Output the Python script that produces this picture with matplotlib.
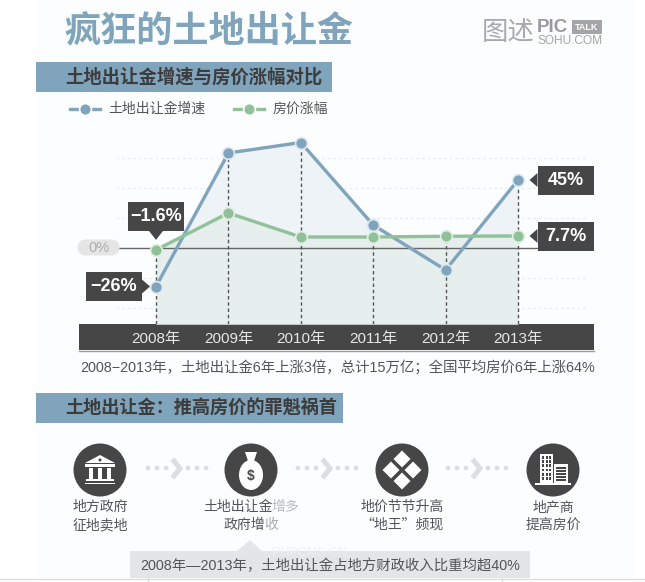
from matplotlib import pyplot as plt
from matplotlib.patches import Rectangle, Polygon, Circle, FancyBboxPatch, Ellipse

plt.rcParams['font.family'] = ['Liberation Sans', 'Noto Sans CJK SC', 'DejaVu Sans']

W, H = 645, 582

years = [2008, 2009, 2010, 2011, 2012, 2013]
year_labels = ["2008年", "2009年", "2010年", "2011年", "2012年", "2013年"]
land_growth = [-26, 63, 70, 15, -15, 45]
house_growth = [-1.6, 23, 7, 7, 7.5, 7.7]
grid_values = [-40, -20, 20, 40, 60]

BLUE = "#7fa4bb"
GREEN = "#90c198"
DARK = "#464646"
TEXT = "#555555"
BG = "#fbfdfe"

fig = plt.figure(figsize=(W / 100, H / 100), dpi=100, facecolor="white")


def pixel_axes(zorder):
    a = fig.add_axes([0, 0, 1, 1], zorder=zorder)
    a.set_xlim(0, W)
    a.set_ylim(H, 0)
    a.axis("off")
    return a


back = pixel_axes(0)
top = pixel_axes(2)

# Background panel
back.add_patch(Rectangle((36, 0), 597, 578, color=BG, lw=0))
back.plot([0, 645], [578.5, 578.5], color="#dddddd", lw=1)
back.plot([148, 148], [578, 582], color="#dddddd", lw=1)
back.plot([502, 502], [578, 582], color="#dddddd", lw=1)

# Main chart, 1.5 px per percent, zero at y=247.5
left, right, ytop, ybot = 79, 594, 120, 324
ax = fig.add_axes([left / W, 1 - ybot / H, (right - left) / W, (ybot - ytop) / H], zorder=1)
ax.patch.set_alpha(0)
ax.set_xlim(2008 - 77 / 72.4, 2013 + 76 / 72.4)
ax.set_ylim((247.5 - ybot) / 1.5, (247.5 - ytop) / 1.5)
for s in ax.spines.values():
    s.set_visible(False)
ax.set_yticks([])
ax.set_xticks(years)
ax.set_xticklabels(year_labels, fontsize=11, color="#e6e6e6")
ax.tick_params(axis="x", length=0, pad=6)

y0 = ax.get_ylim()[0]
ax.fill_between(years, land_growth, y0, color="#edf3f7", lw=0, zorder=1)
ax.fill_between(years, house_growth, y0, color="#e7eeee", lw=0, zorder=1.1)

for v in grid_values:
    ax.plot([2007.45, 2013.95], [v, v], color="#e9eff1", lw=1, ls=(0, (2, 2)), zorder=0.5)
ax.plot([2007.45, 2013.6], [0, 0], color="#666666", lw=1, zorder=2)

for i in range(len(years)):
    ax.plot([years[i], years[i]], [y0, max(land_growth[i], house_growth[i])],
            color="#555555", lw=1, ls=(0, (2.5, 2)), zorder=2.5)

ax.plot(years, land_growth, color=BLUE, lw=2.4, zorder=3, marker="o", ms=8.5,
        mfc=BLUE, mec="#dfe9ef", mew=1.2)
ax.plot(years, house_growth, color=GREEN, lw=2.4, zorder=4, marker="o", ms=8.5,
        mfc=GREEN, mec="#e2efe4", mew=1.2)


def to_px(year, value):
    return top.transData.inverted().transform(ax.transData.transform((year, value)))


def callout(year, value, label, side):
    px, py = to_px(year, value)
    bw, bh = 56, 29
    if side == "up":
        bx, by = px - 28, py - 48
        tail = [(px - 7, by + bh), (px + 7, by + bh), (px, by + bh + 9)]
    elif side == "left":
        bx, by = px - 70, py - 14.5
        tail = [(bx + bw, py - 7), (bx + bw, py + 7), (bx + bw + 8, py)]
    else:
        bx, by = px + 19.5, py - 14
        tail = [(bx, py - 7), (bx, py + 7), (bx - 8, py)]
    top.add_patch(Rectangle((bx, by), bw, bh, color=DARK, lw=0))
    top.add_patch(Polygon(tail, color=DARK, lw=0))
    top.text(bx + bw / 2, by + bh / 2, label, color="white", fontsize=13, fontweight="bold",
             ha="center", va="center")


callout(years[0], house_growth[0], "−1.6%", "up")
callout(years[0], land_growth[0], "−26%", "left")
callout(years[5], land_growth[5], "45%", "right")
callout(years[5], house_growth[5], "7.7%", "right")

# Bar under the chart
back.add_patch(Rectangle((79, 324), 515, 26, color=DARK, lw=0))
back.plot([79, 594], [350.5, 350.5], color="#9a9a9a", lw=1)

# 0% pill
top.add_patch(FancyBboxPatch((81, 243), 35, 9, boxstyle="round,pad=0,rounding_size=4.5",
                             lw=5, ec="#e5e5e5", fc="#e5e5e5", joinstyle="round"))
top.text(99, 247.5, "0%", color="#adadad", fontsize=10.5, ha="center", va="center")

# Title and section headers
top.text(64, 32, "疯狂的土地出让金", color=BLUE, fontsize=26, fontweight="bold", va="center")
back.add_patch(Rectangle((36, 62), 296, 30, color=BLUE, lw=0))
top.text(65, 77, "土地出让金增速与房价涨幅对比", color="#3c3c3c", fontsize=13.2, fontweight="bold", va="center")
back.add_patch(Rectangle((36, 393), 307, 30, color=BLUE, lw=0))
top.text(65, 408, "土地出让金：推高房价的罪魁祸首", color="#3c3c3c", fontsize=13.1, fontweight="bold", va="center")

# Logo
top.text(482, 33, "图述", color="#a9a9a9", fontsize=19, va="center")
top.text(537, 28, "PIC", color="#9a9a9a", fontsize=13.5, fontweight="bold", va="center")
top.add_patch(Rectangle((572, 20), 30, 14, color="#a5a5a5", lw=0))
top.text(587, 27, "TALK", color="white", fontsize=6.5, fontweight="bold", ha="center", va="center")
top.text(537, 41, "SOHU.COM", color="#a5a5a5", fontsize=8.6, va="center")

# Legend
top.plot([70, 100], [109, 109], color=BLUE, lw=2.4)
top.plot([85], [109], marker="o", ms=8.5, color=BLUE, mec=BG, mew=1.2)
top.text(108, 109, "土地出让金增速", color=TEXT, fontsize=10, va="center")
top.plot([234, 264], [109, 109], color=GREEN, lw=2.4)
top.plot([249], [109], marker="o", ms=8.5, color=GREEN, mec=BG, mew=1.2)
top.text(273, 109, "房价涨幅", color=TEXT, fontsize=10, va="center")

top.text(80, 367, "2008−2013年，土地出让金6年上涨3倍，总计15万亿；全国平均房价6年上涨64%",
         color=TEXT, fontsize=10.4, va="center")

# Flow with icons
cy = 470
centers = [100, 251, 402, 553]
for c in centers:
    top.add_patch(Circle((c, cy), 26.5, color=DARK, lw=0))

# bank
c = centers[0]
top.add_patch(Polygon([(c - 15, cy - 7), (c, cy - 15), (c + 15, cy - 7)], color="white", lw=0))
top.add_patch(Circle((c, cy - 10), 1.5, color=DARK, lw=0))
top.add_patch(Rectangle((c - 15, cy - 6), 30, 2.5, color="white", lw=0))
for dx in [-11, -2, 7]:
    top.add_patch(Rectangle((c + dx, cy - 2.5), 4, 11, color="white", lw=0))
top.add_patch(Rectangle((c - 14, cy + 9), 28, 2, color="white", lw=0))
top.add_patch(Rectangle((c - 15, cy + 12.5), 30, 1.5, color="white", lw=0))

# money bag
c = centers[1]
top.add_patch(Polygon([(c - 6, cy - 18), (c + 6, cy - 18), (c + 3, cy - 9), (c - 3, cy - 9)], color="white", lw=0))
top.add_patch(Ellipse((c, cy + 5), 24, 30, color="white", lw=0))
top.text(c, cy + 6, "$", color=DARK, fontsize=10, fontweight="bold", ha="center", va="center")

# diamonds
c = centers[2]
d = 8.5
for dx, dy in [(0, -11), (-11, 0), (11, 0), (0, 11)]:
    top.add_patch(Polygon([(c + dx, cy + dy - d), (c + dx + d, cy + dy),
                           (c + dx, cy + dy + d), (c + dx - d, cy + dy)], color="white", lw=0))

# buildings
c = centers[3]
top.add_patch(Rectangle((c - 13, cy - 16), 13, 30, color="white", lw=0))
top.add_patch(Rectangle((c + 1, cy - 6), 14, 20, color="white", lw=0))
top.add_patch(Rectangle((c - 18, cy + 13), 36, 2, color="white", lw=0))
for row in range(6):
    for col in range(3):
        top.add_patch(Rectangle((c - 11 + col * 3.5, cy - 14 + row * 4.2), 2.3, 2.8, color=DARK, lw=0))
for row in range(5):
    top.add_patch(Rectangle((c + 3, cy - 3 + row * 3), 10, 1.5, color=DARK, lw=0))

# dots and chevrons between the circles
for start in [148, 298, 448]:
    for dx in [0, 9, 18, 40, 49, 58]:
        top.add_patch(Circle((start + dx, 468), 2.4, color="#dcdfe0", lw=0))
    top.plot([start + 26, start + 32, start + 26], [461, 468.5, 476], color="#dcdfe0",
             lw=3.6, solid_joinstyle="miter")

cjk = ['Noto Sans CJK SC', 'DejaVu Sans']
top.text(100, 507, "地方政府", color=TEXT, fontsize=10, ha="center", va="center", family=cjk)
top.text(100, 525, "征地卖地", color=TEXT, fontsize=10, ha="center", va="center", family=cjk)
top.text(203, 507, "土地出让金", color=TEXT, fontsize=10, va="center", family=cjk)
top.text(271, 507, "增多", color="#bcbcbc", fontsize=10, va="center", family=cjk)
top.text(224, 525, "政府增", color=TEXT, fontsize=10, va="center", family=cjk)
top.text(264.5, 525, "收", color="#aaaaaa", fontsize=10, va="center", family=cjk)
top.text(402, 507, "地价节节升高", color=TEXT, fontsize=10, ha="center", va="center", family=cjk)
top.text(402, 525, "“地王”频现", color=TEXT, fontsize=10, ha="center", va="center", family=cjk)
top.text(553, 507, "地产商", color=TEXT, fontsize=10, ha="center", va="center", family=cjk)
top.text(553, 525, "提高房价", color=TEXT, fontsize=10, ha="center", va="center", family=cjk)

# Bottom note
back.add_patch(Rectangle((130, 551), 400, 27, color="#e3e6e6", lw=0))
back.add_patch(Polygon([(237, 551), (250, 540), (262, 551)], color="#e3e6e6", lw=0))
top.text(140, 566, "2008年—2013年，土地出让金占地方财政收入比重均超40%", color=TEXT, fontsize=10.35, va="center")
top.text(272, 553, "PHPCMS.CN", color="#eef0f0", fontsize=9, va="center")

fig.savefig("out.png", dpi=100)
